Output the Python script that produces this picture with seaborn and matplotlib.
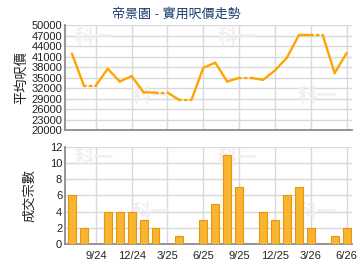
import numpy as np
import pandas as pd
import matplotlib
matplotlib.use("Agg")
import matplotlib.pyplot as plt
import seaborn as sns

months = ["7/24", "8/24", "9/24", "10/24", "11/24", "12/24", "1/25", "2/25", "3/25",
          "4/25", "5/25", "6/25", "7/25", "8/25", "9/25", "10/25", "11/25", "12/25",
          "1/26", "2/26", "3/26", "4/26", "5/26", "6/26"]
price = [41800, 32700, np.nan, 37500, 33850, 35400, 30770, 30700, np.nan,
         28560, np.nan, 37790, 39230, 33850, 34900, np.nan, 34330, 37020,
         40670, 47100, 47100, np.nan, 36250, 42000]
count = [6, 2, 0, 4, 4, 4, 3, 2, 0, 1, 0, 3, 5, 11, 7, 0, 4, 3, 6, 7, 2, 0, 1, 2]
tick_labels = ["9/24", "12/24", "3/25", "6/25", "9/25", "12/25", "3/26", "6/26"]
price_ticks = [20000, 23000, 26000, 29000, 32000, 35000, 38000, 41000, 44000, 47000, 50000]
count_ticks = [0, 2, 4, 6, 8, 10, 12]
title = "帝景園 - 實用呎價走勢"

df = pd.DataFrame({"month": months, "price": price, "count": count})
df["pos"] = np.arange(len(df))
df["price_ff"] = df["price"].ffill()

sns.set_theme(style="white")
plt.rcParams["font.family"] = ["Liberation Sans", "Noto Sans CJK TC", "DejaVu Sans"]

fig = plt.figure(figsize=(3.6, 2.7), dpi=100)
ax1 = fig.add_axes([0.1806, 0.5185, 0.7972, 0.3889])
ax2 = fig.add_axes([0.1806, 0.0963, 0.7972, 0.3593])

tick_pos = [df.index[df["month"] == m][0] for m in tick_labels]
xlim = (-0.58, 23.45)
grid_c = "#d9d9d9"
spine_c = "#8c8c8c"
line_c = "#FFA500"

# ---- top: price line ----
for i in range(len(df) - 1):
    seg = df.iloc[i:i + 2]
    dotted = np.isnan(df["price"].iloc[i + 1])
    sns.lineplot(x=seg["pos"], y=seg["price_ff"], ax=ax1, color=line_c,
                 linewidth=1.7, solid_capstyle="round",
                 linestyle=(0, (0.8, 1.6)) if dotted else "-",
                 dash_capstyle="round", zorder=3, estimator=None, sort=False)

ax1.set_xlim(*xlim)
ax1.set_ylim(20000, 50000)
ax1.set_yticks(price_ticks)
ax1.set_yticklabels([str(t) for t in price_ticks])
ax1.set_xticks(tick_pos)
ax1.set_xticklabels([])
ax1.set_xlabel("")
ax1.set_ylabel("平均呎價", fontsize=9.5, color="#222222", labelpad=2)
fig.text(0.49, 0.945, title, fontsize=9.4, color="#1b3d6e", ha="center", va="center")

# ---- bottom: counts ----
sns.barplot(data=df, x="pos", y="count", ax=ax2, native_scale=True,
            color="#F9B531", edgecolor="#E8960A", linewidth=0.8,
            width=0.66, saturation=1, zorder=3)
ax2.set_xlim(*xlim)
ax2.set_ylim(0, 12)
ax2.set_yticks(count_ticks)
ax2.set_yticklabels([str(t) for t in count_ticks])
ax2.set_xticks(tick_pos)
ax2.set_xticklabels(tick_labels)
ax2.set_xlabel("")
ax2.set_ylabel("成交宗數", fontsize=9.5, color="#222222", labelpad=10)

for ax in (ax1, ax2):
    ax.grid(True, color=grid_c, linewidth=1.0, zorder=0)
    ax.set_axisbelow(True)
    for s in ("top", "right"):
        ax.spines[s].set_visible(False)
    for s in ("left", "bottom"):
        ax.spines[s].set_color(spine_c)
        ax.spines[s].set_linewidth(1.3)
    ax.tick_params(axis="both", labelsize=8, colors="#222222", length=0, pad=2)
    ax.tick_params(axis="x", length=3, color=grid_c, width=1.0)
    ax.set_facecolor("white")

# faint watermarks
for ax in (ax1, ax2):
    for (x, y) in [(0.1, 0.88), (0.6, 0.88), (0.3, 0.32), (0.88, 0.32)]:
        ax.text(x, y, "科一", transform=ax.transAxes, fontsize=14,
                fontweight="bold", color="#f0f0f0", ha="center", va="center",
                zorder=1, family=["Noto Sans CJK TC"])

fig.savefig("out.png", dpi=100, facecolor="white")
